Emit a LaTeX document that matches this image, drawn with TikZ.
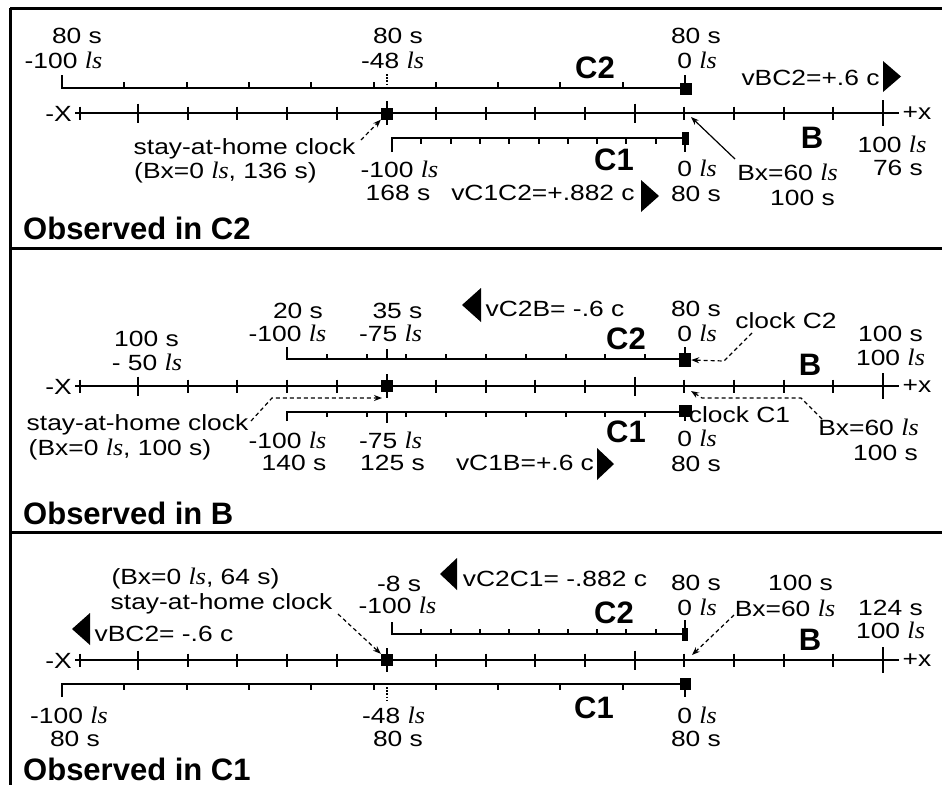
\documentclass[tikz,border=0pt]{standalone}
\usepackage{fontspec}
\setmainfont{Liberation Sans}[FakeStretch=1.2]
\newfontfamily\bfam{Liberation Sans}
\newfontfamily\lsfam{Liberation Serif}[FakeStretch=1.1,Scale=1.08]
\newcommand\ls{{\lsfam\itshape ls}}
\newcommand\lab{\fontsize{22}{24}\selectfont}
\newcommand\hdr{\bfam\bfseries\fontsize{31}{33}\selectfont}
\usetikzlibrary{arrows.meta}
% axis of B: #1 = y
\newcommand\baxis[1]{%
  \draw[ruler] (75,#1) -- (899,#1);
  \draw[tk] (80,#1-6.5) -- ++(0,13);
  \foreach \k in {1,2,3,4,6,7,8,9,11,12,13,14} \draw[tk] ({138+\k*49.67},#1-6.5) -- ++(0,13);
  \foreach \k in {0,10} \draw[tk] ({138+\k*49.67},#1-9.5) -- ++(0,19);
  \draw[tk] (387,#1-12) -- ++(0,24);
  \draw[tk] (883,#1-13) -- ++(0,26);
}
% ruler: #1 x0, #2 x1, #3 y, #4 signed tick, #5 y of bracket end
\newcommand\rul[5]{%
  \draw[ruler,line join=miter] (#1,#5) -- (#1,#3) -- (#2,#3);
  \foreach \k in {1,...,9} \draw[tk] ({#1+\k*(#2-#1)/10},#3) -- ++(0,#4);
}
\begin{document}
\begin{tikzpicture}[x=1pt,y=-1pt,
  lbl/.style={anchor=base,inner sep=0pt,font=\lab},
  hd/.style={anchor=base,inner sep=0pt,font=\hdr},
  ttl/.style={anchor=base west,inner sep=0pt,font=\hdr},
  ruler/.style={line width=2.4pt},
  tk/.style={line width=2pt},
  frame/.style={line width=3pt},
  sq/.style={fill=black,inner sep=0pt,minimum width=12pt,minimum height=12pt},
  ptr/.style={line width=1.2pt,-{Stealth[length=8pt,width=6pt]}},
  dptr/.style={ptr,dash pattern=on 4pt off 3pt},
  dotv/.style={line width=1.6pt,dash pattern=on 1.6pt off 1.6pt}]
\useasboundingbox (0,0) rectangle (942,785);
% frame
\draw[frame] (10,8) -- (942,8);
\draw[line width=2.5pt] (10.5,8) -- (10.5,785);
\draw[frame] (10,248.5) -- (942,248.5);
\draw[frame] (10,532) -- (942,532);

%================ Panel 1: observed in C2
\baxis{113}
\node[sq] (h1) at (387,113.5) {};
\rul{62}{685}{88}{-6}{75}
\draw[tk] (685,88) -- (685,75);
\node[sq] (p1c2e) at (685.5,89) {};
\draw[dotv] (387,74) -- (387,87);
\rul{392}{685}{138}{6}{152}
\draw[tk] (685,138) -- (685,152);
\node[sq,minimum width=7pt,minimum height=13pt] (p1c1e) at (685.5,138.5) {};
\node[lbl] (p1a) at (77,43) {80 s};
\node[lbl] (p1b) at (63.5,68) {-100 \ls};
\node[lbl] (p1c) at (398,43) {80 s};
\node[lbl] (p1d) at (392.5,68) {-48 \ls};
\node[lbl] (p1e) at (696,43) {80 s};
\node[lbl] (p1f) at (697,68) {0 \ls};
\node[hd] (p1C2) at (595,78.5) {C2};
\node[lbl] (p1v) at (810.5,85) {vBC2=+.6 c};
\fill (883,61) -- (883,92) -- (901,76.5) -- cycle;
\node[lbl] (p1mx) at (58.5,121) {-X};
\node[lbl] (p1px) at (917,119) {+x};
\node[lbl] (p1s) at (244.5,154) {stay-at-home clock};
\node[lbl] (p1s2) at (225.5,178) {(Bx=0 \ls, 136 s)};
\node[lbl] (p1g) at (399.5,177) {-100 \ls};
\node[lbl] (p1h) at (398,200) {168 s};
\node[lbl] (p1w) at (543,200) {vC1C2=+.882 c};
\fill (641,180) -- (641,212) -- (659,196) -- cycle;
\node[lbl] (p1i) at (697,176) {0 \ls};
\node[lbl] (p1j) at (696,201) {80 s};
\node[hd] (p1C1) at (614,170.5) {C1};
\node[hd] (p1B) at (812,148.5) {B};
\node[lbl] (p1k) at (892,152) {100 \ls};
\node[lbl] (p1l) at (898,175) {76 s};
\node[lbl] (p1m) at (787.5,180) {Bx=60 \ls};
\node[lbl] (p1n) at (802.5,205) {100 s};
\node[ttl] (p1T) at (23,239) {Observed in C2};
\coordinate (p1sa) at (361,140);
\draw[dptr] (p1sa) -- (h1.south west);
\coordinate (p1ba) at (735,159);
\coordinate (p1bt) at (691,117);
\draw[ptr] (p1ba) -- (p1bt);

%================ Panel 2: observed in B
\baxis{386}
\node[sq] (h2) at (387,386) {};
\rul{287}{685}{359}{-5}{347}
\draw[tk] (387,359) -- (387,349);
\draw[tk] (685,359) -- (685,347);
\node[sq,minimum height=14pt] (p2c2e) at (685,360) {};
\rul{287}{685}{412}{5}{421}
\draw[tk] (387,412) -- (387,423);
\draw[tk] (685,412) -- (685,421);
\node[sq,minimum width=13pt] (p2c1e) at (685.5,411) {};
\node[lbl] (p2a) at (298,318) {20 s};
\node[lbl] (p2b) at (287.5,341) {-100 \ls};
\node[lbl] (p2c) at (397.5,318) {35 s};
\node[lbl] (p2d) at (390.5,341) {-75 \ls};
\node[lbl] (p2e) at (146.5,346) {100 s};
\node[lbl] (p2f) at (147,370) {- 50 \ls};
\fill (481,288) -- (481,322) -- (462,305) -- cycle;
\node[lbl] (p2v) at (555,316) {vC2B= -.6 c};
\node[lbl] (p2g) at (696,316) {80 s};
\node[lbl] (p2h) at (697,341) {0 \ls};
\node[hd] (p2C2) at (626,349.5) {C2};
\node[lbl] (p2k2) at (786,328) {clock C2};
\node[lbl] (p2i) at (890.5,341) {100 s};
\node[lbl] (p2j) at (890.5,365) {100 \ls};
\node[hd] (p2B) at (810,375.5) {B};
\node[lbl] (p2mx) at (58.5,394) {-X};
\node[lbl] (p2px) at (917,392) {+x};
\node[lbl] (p2s) at (137.5,430) {stay-at-home clock};
\node[lbl] (p2s2) at (120,455) {(Bx=0 \ls, 100 s)};
\node[lbl] (p2l) at (287.5,448) {-100 \ls};
\node[lbl] (p2m) at (294,470) {140 s};
\node[lbl] (p2n) at (390.5,448) {-75 \ls};
\node[lbl] (p2o) at (392.5,470) {125 s};
\node[lbl] (p2w) at (525,470) {vC1B=+.6 c};
\fill (597,448) -- (597,480) -- (614,464) -- cycle;
\node[lbl] (p2k1) at (739.5,422) {clock C1};
\node[hd] (p2C1) at (626,442.5) {C1};
\node[lbl] (p2p) at (697,446) {0 \ls};
\node[lbl] (p2q) at (696,471) {80 s};
\node[lbl] (p2r) at (868.5,435) {Bx=60 \ls};
\node[lbl] (p2t) at (885.5,460) {100 s};
\node[ttl] (p2T) at (23,524) {Observed in B};
\coordinate (p2sa) at (251,421);
\coordinate (p2sb) at (272,398);
\coordinate (p2sc) at (382,398);
\draw[dptr] (p2sa) -- (p2sb) -- (p2sc);
\coordinate (p2ka) at (752,333);
\coordinate (p2kb) at (724,361);
\draw[dptr] (p2ka) -- (p2kb) -- (p2c2e.east);
\coordinate (p2ba) at (822,419);
\coordinate (p2bb) at (801,398);
\coordinate (p2bc) at (702,398);
\coordinate (p2bt) at (691,391);
\draw[dptr] (p2ba) -- (p2bb) -- (p2bc) -- (p2bt);

%================ Panel 3: observed in C1
\baxis{660}
\node[sq] (h3) at (387,660) {};
\rul{392}{685}{634}{-5}{622}
\draw[tk] (685,634) -- (685,620);
\node[sq,minimum width=6pt,minimum height=13pt] (p3c2e) at (685,634) {};
\rul{62}{685}{684}{6}{697}
\draw[tk] (685,684) -- (685,697);
\node[sq,minimum width=11pt] (p3c1e) at (685.5,684) {};
\draw[dotv] (387,687) -- (387,702);
\node[lbl] (p3s2) at (195.5,584) {(Bx=0 \ls, 64 s)};
\node[lbl] (p3s) at (221.5,609) {stay-at-home clock};
\fill (90,613) -- (90,645) -- (72,629) -- cycle;
\node[lbl] (p3v) at (164,641) {vBC2= -.6 c};
\node[lbl] (p3a) at (399,591) {-8 s};
\node[lbl] (p3b) at (397.5,613) {-100 \ls};
\fill (457,558) -- (457,590) -- (440,574) -- cycle;
\node[lbl] (p3w) at (555,586) {vC2C1= -.882 c};
\node[lbl] (p3c) at (696,590) {80 s};
\node[lbl] (p3d) at (697,615) {0 \ls};
\node[lbl] (p3e) at (800.5,590) {100 s};
\node[lbl] (p3f) at (785,616) {Bx=60 \ls};
\node[lbl] (p3g) at (890.5,615) {124 s};
\node[lbl] (p3h) at (890.5,638) {100 \ls};
\node[hd] (p3C2) at (614,623.5) {C2};
\node[hd] (p3B) at (810,650.5) {B};
\node[lbl] (p3mx) at (58.5,668) {-X};
\node[lbl] (p3px) at (917,666) {+x};
\node[hd] (p3C1) at (594,718.5) {C1};
\node[lbl] (p3i) at (69,723) {-100 \ls};
\node[lbl] (p3j) at (75,746) {80 s};
\node[lbl] (p3k) at (393.5,723) {-48 \ls};
\node[lbl] (p3l) at (398,746) {80 s};
\node[lbl] (p3m) at (697,723) {0 \ls};
\node[lbl] (p3n) at (696,746) {80 s};
\node[ttl] (p3T) at (23,780) {Observed in C1};
\coordinate (p3sa) at (338,614);
\draw[dptr] (p3sa) -- (h3.north west);
\coordinate (p3ba) at (734,615);
\coordinate (p3bt) at (692,655);
\draw[dptr] (p3ba) -- (p3bt);
\end{tikzpicture}
\end{document}
